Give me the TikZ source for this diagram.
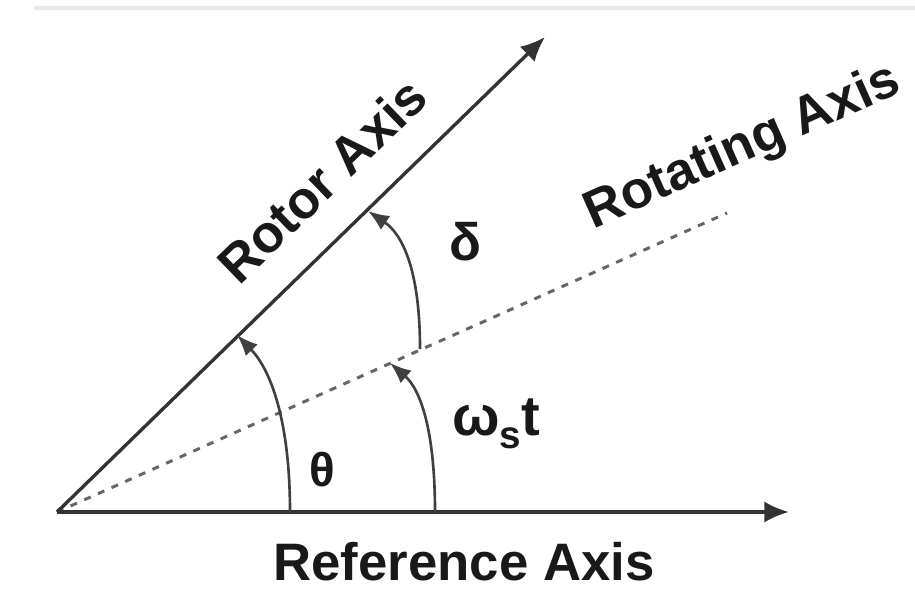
\documentclass[tikz,border=0pt]{standalone}
\usepackage{fontspec}
\setmainfont{Liberation Sans}
\usetikzlibrary{arrows.meta}

\begin{document}
\begin{tikzpicture}[x=0.02cm, y=0.02cm, every node/.style={font=\fontsize{30}{35}\selectfont\bfseries}]
        \tikzstyle{axis} = [-{Latex[length=14pt, width=12pt]}, line width=1.9pt, draw=black!80, fill=black!80]
        \tikzstyle{rotating} = [draw=black!60, line width=1.7pt, dash pattern=on 4pt off 4.5pt]
        \tikzstyle{angle} = [-{Latex[length=12pt, width=9.5pt]}, line width=1.5pt, draw=black!75]
        \tikzstyle{label} = [inner sep=0pt, text=black!90]

        \useasboundingbox[fill=white] (0,0) rectangle (915,589);
        \draw[gray!18, line width=2pt] (34,581) -- (915,581);

        \coordinate (origin) at (57,77);
        \coordinate (reftip) at (789,77);
        \coordinate (rotortip) at (545,552);
        \coordinate (rotend) at (727,376);

        \coordinate (thetafoot) at (290,77);
        \coordinate (thetahead) at (237,254);
        \coordinate (omegafoot) at (435,77);
        \coordinate (omegahead) at (390,226);
        \coordinate (deltafoot) at (420,240);
        \coordinate (deltahead) at (368,378);

        \draw [rotating] (origin) -- (rotend);
        \draw [axis] (origin) -- (reftip);
        \draw [axis] (origin) -- (rotortip);

        \draw [angle] (thetafoot) .. controls (290,170) and (270,220) .. (thetahead);
        \draw [angle] (omegafoot) .. controls (435,160) and (420,200) .. (omegahead);
        \draw [angle] (deltafoot) .. controls (420,320) and (402,355) .. (deltahead);

        \node (rotorlabel) [label, rotate=44] at (322,409) {Rotor Axis};
        \node (rotatinglabel) [label, rotate=24] at (743,441) {Rotating Axis};
        \node (reflabel) [label, anchor=base] at (464,9) {Reference Axis};
        \node (theta) [label, font=\fontsize{27}{31}\selectfont\bfseries] at (322,119) {θ};
        \node (delta) [label] at (465,347) {δ};
        \node (omega) [label, font=\fontsize{32}{37}\selectfont\bfseries] at (496,165)
            {ω\raisebox{-0.22em}{\fontsize{22}{26}\selectfont s}t};
    \end{tikzpicture}
\end{document}
